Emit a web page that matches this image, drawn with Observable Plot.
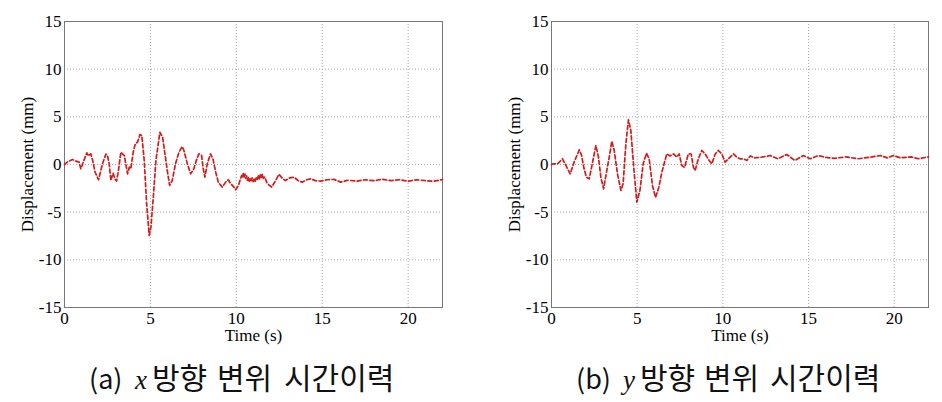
<!DOCTYPE html>
<html>
<head>
<meta charset="utf-8">
<script src="https://cdn.jsdelivr.net/npm/d3@7"></script>
<script src="https://cdn.jsdelivr.net/npm/@observablehq/plot@0.6"></script>
<style>
  html, body { margin: 0; padding: 0; background: #fff; }
  #wrap { position: relative; width: 942px; height: 402px; overflow: hidden; }
  .panel { position: absolute; top: 0; }
  #caps { position: absolute; left: 0; top: 0; }
  .hn { font-family: "Noto Sans CJK KR", sans-serif; font-size: 30px; fill: #111; }
  .pr { font-family: "Noto Sans CJK KR", sans-serif; font-size: 27px; fill: #111; }
  .vr { font-family: "Liberation Serif", serif; font-style: italic; font-size: 27px; fill: #111; }
</style>
</head>
<body>
<div id="wrap"></div>
<script>
// ---- data ----
const timeA = [0,0.2,0.47,0.66,0.85,0.95,1.09,1.3,1.4,1.53,1.63,1.78,1.98,2.21,2.41,2.5,2.6,2.7,2.83,2.93,3.03,3.14,3.28,3.48,3.67,3.77,3.86,4.0,4.12,4.25,4.39,4.5,4.64,4.78,4.93,5.03,5.17,5.32,5.55,5.71,5.9,5.98,6.12,6.27,6.46,6.66,6.85,6.95,7.15,7.34,7.53,7.67,7.82,7.98,8.06,8.17,8.31,8.5,8.64,8.8,8.95,9.18,9.38,9.53,9.67,9.86,9.96,10.12,10.31,10.36,10.4,10.45,10.5,10.55,10.6,10.65,10.7,10.75,10.8,10.86,10.92,10.98,11.04,11.1,11.16,11.22,11.28,11.34,11.4,11.46,11.51,11.57,11.65,11.8,12.06,12.29,12.48,12.7,12.87,13.1,13.36,13.6,13.84,14.1,14.33,14.6,14.9,15.3,15.69,16.07,16.5,17.0,17.5,18.0,18.5,19.0,19.5,20.0,20.5,21.0,21.5,22.0];
const dispA = [0,0.3,0.52,0.35,0.25,-0.45,0.25,1.22,0.9,1.12,0.5,-0.8,-1.6,0.07,1.1,0.95,0.07,-1.68,-0.9,-1.5,-1.74,-0.63,1.29,0.94,-0.98,-0.28,-0.45,1.29,2.17,2.34,3.14,3.04,0.42,-4.1,-7.43,-6.6,-3.4,0.4,3.38,2.86,0.42,-0.63,-2.2,-1.68,0.07,1.29,1.88,1.47,0.07,-0.98,-0.45,0.42,1.12,0.94,-0.28,-1.33,0.07,1.12,0.59,-0.8,-1.85,-2.37,-1.85,-1.6,-2.0,-2.37,-2.65,-2.2,-1.15,-1.4,-0.95,-1.3,-1.0,-1.45,-1.2,-1.65,-1.35,-1.75,-1.45,-1.7,-1.4,-1.8,-1.5,-1.75,-1.4,-1.6,-1.2,-1.5,-1.05,-1.35,-1.0,-1.45,-1.3,-2.0,-2.37,-1.68,-1.03,-1.5,-1.68,-1.4,-1.33,-1.7,-1.85,-1.6,-1.5,-1.7,-1.74,-1.6,-1.56,-1.85,-1.65,-1.75,-1.6,-1.7,-1.55,-1.7,-1.6,-1.75,-1.6,-1.7,-1.75,-1.57];
const timeB = [0,0.1,0.35,0.64,0.84,1.09,1.32,1.62,1.75,1.9,2.04,2.2,2.35,2.59,2.74,2.88,3.04,3.21,3.37,3.52,3.66,3.85,4.05,4.18,4.34,4.49,4.63,4.83,4.98,5.16,5.35,5.54,5.7,5.89,6.07,6.25,6.44,6.73,6.92,7.12,7.31,7.45,7.6,7.76,7.99,8.15,8.28,8.38,8.57,8.77,8.97,9.2,9.36,9.55,9.74,9.94,10.13,10.33,10.62,10.81,11.0,11.2,11.4,11.6,11.84,12.2,12.76,13.2,13.73,14.2,14.7,15.1,15.58,16.0,16.5,17.2,17.9,18.6,19.18,19.6,19.96,20.35,21.0,21.4,22.0];
const dispB = [0,0.07,0.07,0.59,-0.1,-0.98,0.25,1.54,1.0,-0.45,-1.33,-1.5,-0.2,1.99,0.77,-1.33,-2.55,-0.8,0.77,2.44,1.47,-0.98,-2.72,-2.0,2.17,4.68,3.56,-0.98,-3.95,-2.72,0.07,1.18,0.6,-2.2,-3.45,-2.5,-0.8,1.12,0.9,1.12,0.77,1.1,-0.1,-0.3,1.12,1.1,-0.28,-0.63,0.6,1.47,1.1,0.42,0.07,1.1,1.47,1.1,0.25,0.6,1.12,0.77,0.6,0.6,0.42,0.9,0.7,0.75,0.94,0.6,1.05,0.42,0.94,0.6,0.94,0.75,0.65,0.8,0.6,0.77,0.94,0.7,0.94,0.7,0.8,0.6,0.8];
const xTicks = [0, 5, 10, 15, 20];
const yTicks = [-15, -10, -5, 0, 5, 10, 15];
const xLabel = "Time (s)";
const yLabel = "Displacement (mm)";
const captionPrefix = ["(a)", "(b)"];
const captionVar = ["x", "y"];
const captionWords = ["방향", "변위", "시간이력"];

const serif = "Liberation Serif, Times New Roman, serif";
const fmt = d => String(d); // plain hyphen-minus like the reference

function panel(times, values, left, mLeft, mRight) {
  const data = times.map((t, i) => ({t, v: values[i]}));
  const chart = Plot.plot({
    width: 471,
    height: 345,
    marginLeft: mLeft,
    marginRight: mRight,
    marginTop: 21,
    marginBottom: 38,
    style: {fontFamily: serif, fontSize: "17px", color: "#000", background: "transparent"},
    x: {domain: [0, 22]},
    y: {domain: [-15, 15]},
    marks: [
      Plot.gridX([5, 10, 15, 20], {stroke: "#a8a8a8", strokeOpacity: 1, strokeDasharray: "1,2"}),
      Plot.gridY([-10, -5, 0, 5, 10], {stroke: "#a8a8a8", strokeOpacity: 1, strokeDasharray: "1,2"}),
      Plot.frame({stroke: "#777"}),
      Plot.axisX(xTicks, {tickSize: 0, tickPadding: 4, tickFormat: fmt, label: null, fontSize: 17}),
      Plot.axisY(yTicks, {tickSize: 0, tickPadding: 3, tickFormat: fmt, label: null, fontSize: 17}),
      Plot.text([xLabel], {frameAnchor: "bottom", dy: 28, lineAnchor: "middle", textAnchor: "middle", fontSize: 17, fill: "#000"}),
      Plot.text([yLabel], {frameAnchor: "left", dx: -37, rotate: -90, lineAnchor: "middle", textAnchor: "middle", fontSize: 17, fill: "#000"}),
      Plot.line(data, {x: "t", y: "v", stroke: "#d21c1c", strokeWidth: 1.7, strokeDasharray: "4,2.5"})
    ]
  });
  chart.classList.add("panel");
  chart.style.left = left + "px";
  return chart;
}

const wrap = document.getElementById("wrap");
wrap.appendChild(panel(timeA, dispA, 0, 64, 29));
wrap.appendChild(panel(timeB, dispB, 471, 80, 14));

const capLayout = [
  {pre: 89, v: 135, w: [152, 217, 284]},
  {pre: 576, v: 623, w: [640, 704, 770]}
];
const NS = "http://www.w3.org/2000/svg";
const caps = document.createElementNS(NS, "svg");
caps.setAttribute("id", "caps");
caps.setAttribute("width", 942);
caps.setAttribute("height", 402);
function addText(x, cls, str) {
  const t = document.createElementNS(NS, "text");
  t.setAttribute("x", x);
  t.setAttribute("y", 389);
  t.setAttribute("class", cls);
  t.textContent = str;
  caps.appendChild(t);
}
capLayout.forEach((L, i) => {
  addText(L.pre, "pr", captionPrefix[i]);
  addText(L.v, "vr", captionVar[i]);
  captionWords.forEach((w, j) => addText(L.w[j], "hn", w));
});
wrap.appendChild(caps);
</script>
</body>
</html>
